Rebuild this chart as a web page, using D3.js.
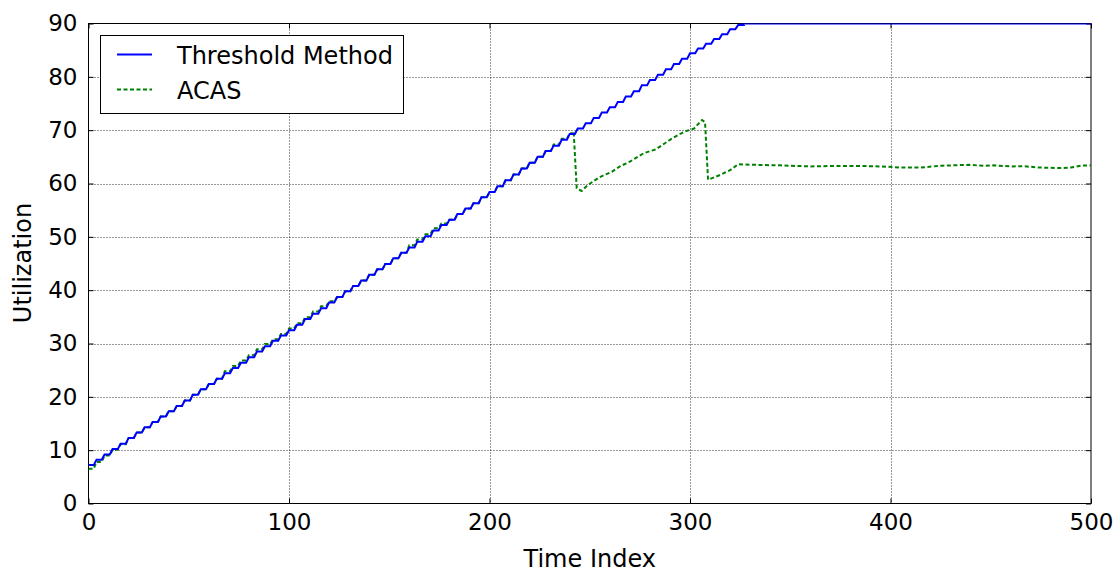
<!DOCTYPE html>
<html>
<head>
  <title>Threshold Method vs ACAS utilization</title>
  <style>
    body { margin: 0; background: #fff; }
    text { font-family: "DejaVu Sans", sans-serif; fill: #000; }
  </style>
</head>
<body>
  <script src="https://cdn.jsdelivr.net/npm/d3@7/dist/d3.min.js"></script>
  <script>
    // tick labels
    var xTicks = [0, 100, 200, 300, 400, 500];
    var yTicks = [0, 10, 20, 30, 40, 50, 60, 70, 80, 90];

    // threshold method: stair levels, one every 4 time units (t = 0, 4, 8 ... 324)
    var stepLen = 4, flatLen = 2.6;
    var thresholdSteps = [
      7.2, 8.2, 9.2, 10.2, 11.2, 12.3, 13.3, 14.3, 15.3, 16.3,
      17.3, 18.3, 19.3, 20.4, 21.4, 22.4, 23.4, 24.4, 25.4, 26.4,
      27.4, 28.5, 29.5, 30.5, 31.5, 32.5, 33.5, 34.6, 35.6, 36.6,
      37.7, 38.7, 39.8, 40.8, 41.8, 42.9, 43.9, 44.9, 46.0, 47.0,
      48.0, 49.1, 50.1, 51.2, 52.2, 53.2, 54.3, 55.3, 56.3, 57.4,
      58.4, 59.5, 60.6, 61.7, 62.8, 63.9, 65.0, 66.1, 67.1, 68.2,
      69.3, 70.3, 71.3, 72.3, 73.3, 74.3, 75.3, 76.3, 77.3, 78.4,
      79.4, 80.4, 81.4, 82.4, 83.4, 84.4, 85.3, 86.2, 87.1, 88.0,
      88.9, 89.7
    ];
    // after saturating it stays at 90
    var thresholdTailT = [326, 500];
    var thresholdTailV = [90, 90];

    // ACAS: same stair shape up to t = 240
    var acasSteps = [
      6.5, 7.8, 9.0, 10.1, 11.1, 12.3, 13.3, 14.3, 15.3, 16.3,
      17.3, 18.3, 19.3, 20.4, 21.4, 22.4, 23.4, 24.8, 25.8, 26.8,
      27.8, 28.9, 29.9, 30.8, 31.8, 32.8, 33.8, 34.9, 36.0, 37.0,
      37.9, 38.7, 39.8, 40.8, 41.8, 42.9, 43.9, 44.9, 46.0, 47.0,
      48.4, 49.5, 50.5, 51.6, 52.5, 53.2, 54.3, 55.3, 56.3, 57.4,
      58.4, 59.5, 60.6, 61.7, 62.8, 63.9, 65.0, 66.1, 67.3, 68.4,
      69.4
    ];
    // then the drops and the flat part
    var acasTailT = [242, 243.5, 246, 249, 255, 261, 265, 270, 277, 283, 290, 297, 302, 306,
                     307.5, 309, 315, 320, 324, 332, 345, 360, 372, 385, 395, 405, 415, 426,
                     439, 447, 451, 461, 466, 474, 485, 490, 495, 500];
    var acasTailV = [69.6, 59.1, 58.6, 59.7, 61.2, 62.2, 63.2, 64.1, 65.7, 66.4, 68.2, 69.7, 70.3, 71.9,
                     71.5, 60.7, 61.6, 62.5, 63.6, 63.5, 63.4, 63.2, 63.3, 63.3, 63.2, 63.0, 63.0, 63.35,
                     63.5, 63.3, 63.4, 63.2, 63.25, 63.0, 62.9, 63.0, 63.35, 63.4];

    function stairPoints(steps, tailT, tailV) {
      var pts = [];
      steps.forEach(function(v, i) {
        pts.push([i * stepLen, v]);
        pts.push([i * stepLen + flatLen, v]);
      });
      tailT.forEach(function(t, i) { pts.push([t, tailV[i]]); });
      return pts;
    }

    var width = 1117, height = 574;
    var plot = {left: 88.5, right: 1091, top: 23.5, bottom: 503.5};

    var x = d3.scaleLinear().domain([0, 500]).range([plot.left, plot.right]);
    var y = d3.scaleLinear().domain([0, 90]).range([plot.bottom, plot.top]);

    var svg = d3.select("body").append("svg")
      .attr("width", width)
      .attr("height", height);

    svg.append("defs").append("clipPath")
      .attr("id", "clip")
      .append("rect")
      .attr("x", plot.left).attr("y", plot.top)
      .attr("width", plot.right - plot.left)
      .attr("height", plot.bottom - plot.top);

    // grid
    var grid = svg.append("g").attr("class", "grid");
    grid.selectAll(".gx").data(xTicks.slice(1, -1)).enter().append("line")
      .attr("x1", function(d) { return Math.round(x(d)) + 0.5; })
      .attr("x2", function(d) { return Math.round(x(d)) + 0.5; })
      .attr("y1", plot.top).attr("y2", plot.bottom);
    grid.selectAll(".gy").data(yTicks.slice(1, -1)).enter().append("line")
      .attr("y1", function(d) { return Math.round(y(d)) + 0.5; })
      .attr("y2", function(d) { return Math.round(y(d)) + 0.5; })
      .attr("x1", plot.left).attr("x2", plot.right);
    grid.selectAll("line")
      .attr("stroke", "#000")
      .attr("stroke-width", 1)
      .attr("stroke-opacity", 0.8)
      .attr("stroke-dasharray", "1,2");

    // frame
    svg.append("rect")
      .attr("x", plot.left).attr("y", plot.top)
      .attr("width", plot.right - plot.left)
      .attr("height", plot.bottom - plot.top)
      .attr("fill", "none")
      .attr("stroke", "#000")
      .attr("stroke-width", 1);

    // inward ticks on all sides
    var axB = svg.append("g").attr("transform", "translate(0," + plot.bottom + ")")
      .call(d3.axisBottom(x).tickValues(xTicks).tickSizeInner(-5).tickSizeOuter(0).tickPadding(10));
    var axT = svg.append("g").attr("transform", "translate(0," + plot.top + ")")
      .call(d3.axisTop(x).tickValues(xTicks).tickSizeInner(-5).tickSizeOuter(0).tickFormat(""));
    var axL = svg.append("g").attr("transform", "translate(" + plot.left + ",0)")
      .call(d3.axisLeft(y).tickValues(yTicks).tickSizeInner(-5).tickSizeOuter(0).tickPadding(11));
    var axR = svg.append("g").attr("transform", "translate(" + plot.right + ",0)")
      .call(d3.axisRight(y).tickValues(yTicks).tickSizeInner(-5).tickSizeOuter(0).tickFormat(""));
    [axB, axT, axL, axR].forEach(function(a) {
      a.select(".domain").remove();
      a.selectAll("line").attr("stroke", "#000");
      a.selectAll("text").attr("font-family", "DejaVu Sans").attr("font-size", 23).attr("fill", "#000");
    });

    // series
    var line = d3.line()
      .x(function(d) { return x(d[0]); })
      .y(function(d) { return y(d[1]); });

    var series = svg.append("g").attr("clip-path", "url(#clip)");
    series.append("path")
      .datum(stairPoints(acasSteps, acasTailT, acasTailV))
      .attr("d", line)
      .attr("fill", "none")
      .attr("stroke", "#008000")
      .attr("stroke-width", 2)
      .attr("stroke-dasharray", "4,2.5");
    series.append("path")
      .datum(stairPoints(thresholdSteps, thresholdTailT, thresholdTailV))
      .attr("d", line)
      .attr("fill", "none")
      .attr("stroke", "#0000ff")
      .attr("stroke-width", 2);

    // axis labels
    svg.append("text")
      .attr("x", (plot.left + plot.right) / 2)
      .attr("y", 567)
      .attr("text-anchor", "middle")
      .attr("font-size", 24)
      .text("Time Index");
    svg.append("text")
      .attr("transform", "translate(31,263) rotate(-90)")
      .attr("text-anchor", "middle")
      .attr("font-size", 24)
      .text("Utilization");

    // legend
    var legendNames = ["Threshold Method", "ACAS"];
    var legendColors = ["#0000ff", "#008000"];
    var legendDash = [null, "4,2.5"];
    var legend = svg.append("g");
    legend.append("rect")
      .attr("x", 100.5).attr("y", 35.5)
      .attr("width", 303).attr("height", 78)
      .attr("fill", "#fff")
      .attr("stroke", "#000");
    legendNames.forEach(function(name, i) {
      var ly = 54.5 + i * 35;
      legend.append("line")
        .attr("x1", 117).attr("x2", 152)
        .attr("y1", ly).attr("y2", ly)
        .attr("stroke", legendColors[i])
        .attr("stroke-width", 2)
        .attr("stroke-dasharray", legendDash[i]);
      legend.append("text")
        .attr("x", 177).attr("y", ly + 9)
        .attr("font-size", 24)
        .text(name);
    });
  </script>
</body>
</html>
